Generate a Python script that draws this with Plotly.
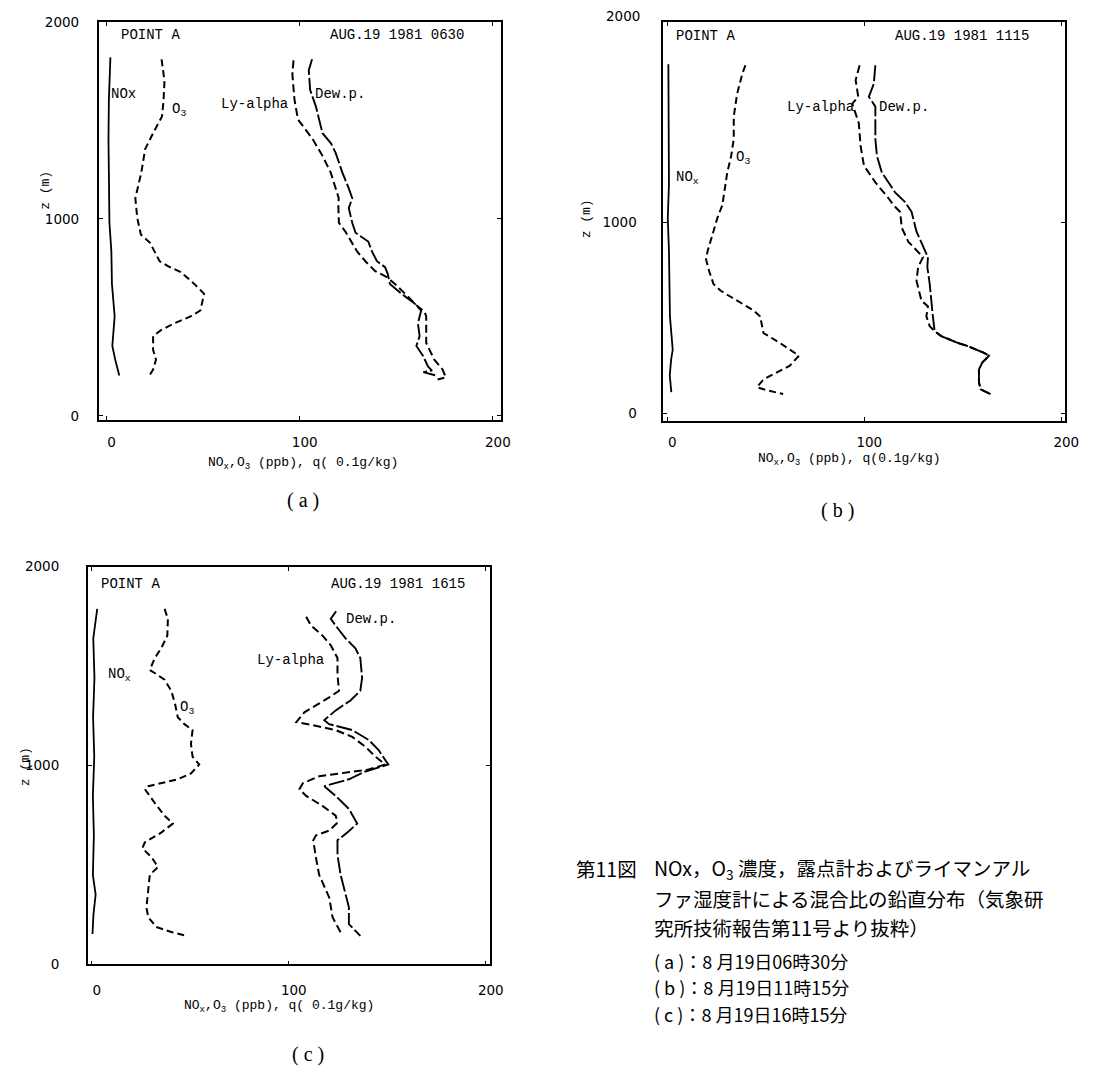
import plotly.graph_objects as go

# page body has an 8px default margin; the figure is sized to fit the window inside it
OFF = 8
W, H = 1103 - 2 * OFF, 1076 - 2 * OFF

# ---------------- data ----------------
# Panel (a) AUG.19 1981 0630
nox_a_z = [1820, 1600, 1400, 1170, 980, 835, 670, 505, 355, 285, 205]
nox_a = [2.0, 1.2, 1.0, 1.1, 1.5, 2.5, 2.8, 4.2, 3.0, 4.5, 6.6]

o3_a_z = [1810, 1700, 1600, 1520, 1435, 1355, 1235, 1105, 1005, 920, 880, 835, 785, 760,
          730, 670, 620, 535, 505, 470, 435, 405, 335, 285, 235, 200]
o3_a = [28.5, 30.0, 29.5, 28.7, 24.1, 20.0, 18.0, 14.9, 15.9, 17.8, 22.4, 25.0, 27.5, 31.8,
        38.4, 45.4, 50.5, 48.6, 43.5, 35.2, 28.2, 24.1, 24.1, 25.6, 24.1, 21.9]

ly_a_z = [1805, 1735, 1605, 1505, 1405, 1320, 1235, 1105, 1070, 980, 935, 835, 785, 735,
          705, 670, 605, 555, 530, 505, 370, 285, 235, 195, 185]
ly_a = [96.8, 96.2, 97.3, 99.1, 106.7, 111.8, 116.1, 120.2, 120.0, 120.3, 123.7, 129.7, 134.0,
        139.1, 145.1, 149.3, 156.1, 161.2, 164.6, 165.5, 165.5, 169.7, 174.0, 175.7, 171.4]

dew_a_z = [1810, 1755, 1655, 1570, 1435, 1385, 1335, 1235, 1155, 1105, 1055, 980, 930, 885,
           835, 785, 755, 720, 670, 620, 570, 535, 470, 405, 355, 305, 250, 230, 222, 205]
dew_a = [106.4, 104.7, 105.4, 108.4, 111.8, 116.1, 118.6, 122.1, 125.4, 127.2, 125.4, 127.2,
         128.9, 135.5, 137.4, 140.0, 144.2, 145.6, 146.7, 152.7, 159.5, 162.9, 161.2, 162.1,
         160.4, 163.8, 166.5, 168.5, 164.0, 170.5]

# Panel (b) AUG.19 1981 1115
nox_b_z = [1828, 1500, 1200, 1023, 848, 507, 332, 280, 198, 110]
nox_b = [0.5, 0.5, 0.8, 0.2, 0.8, 1.3, 2.7, 1.9, 1.2, 2.0]

o3_b_z = [1823, 1777, 1673, 1555, 1436, 1348, 1261, 1142, 1090, 1023, 936, 848, 806, 745, 677,
          641, 610, 574, 538, 507, 456, 420, 368, 332, 301, 249, 213, 177, 136, 120, 100]
o3_b = [39.6, 38.0, 35.4, 33.7, 33.7, 32.4, 30.4, 28.4, 27.9, 25.4, 22.9, 20.4, 19.6, 21.2, 23.4,
        27.1, 32.1, 38.0, 43.8, 47.1, 48.0, 48.8, 57.1, 62.2, 66.8, 62.2, 55.5, 48.8, 45.5, 50.5, 58.8]

ly_b_z = [1823, 1745, 1658, 1622, 1519, 1400, 1297, 1209, 1126, 1090, 1054, 972, 899, 848, 817,
          765, 693, 590, 559, 507, 456, 430, 404, 368, 352, 316, 301, 265, 229, 161, 125, 100]
ly_b = [97.6, 95.6, 96.9, 93.9, 97.2, 98.1, 99.8, 105.6, 112.3, 114.8, 118.2, 119.0, 122.3, 127.3,
        129.8, 127.3, 126.5, 129.0, 132.3, 131.5, 133.2, 135.7, 139.0, 147.4, 152.4, 160.8, 163.3,
        159.9, 158.2, 158.2, 159.1, 164.1]

dew_b_z = [1823, 1725, 1658, 1606, 1436, 1348, 1261, 1157, 1106, 1054, 951, 848, 817, 765, 677,
           507, 430, 404, 368, 352, 316, 301, 265, 229, 161, 125, 100]
dew_b = [105.6, 104.8, 102.3, 105.6, 105.6, 106.4, 108.9, 115.6, 120.7, 124.0, 126.5, 130.7, 132.3,
         132.0, 133.2, 134.8, 135.7, 139.0, 147.4, 152.4, 160.8, 163.3, 159.9, 158.2, 158.2, 159.1, 164.1]

# Panel (c) AUG.19 1981 1615
nox_c_z = [1787, 1639, 1441, 1243, 1045, 847, 649, 450, 351, 252, 153]
nox_c = [2.7, 0.7, 1.3, 0.6, 1.2, 0.5, 1.0, 0.5, 1.9, 0.8, 0.3]

o3_c_z = [1787, 1738, 1653, 1589, 1540, 1480, 1465, 1431, 1376, 1307, 1243, 1208, 1178, 1109,
          1045, 1005, 960, 931, 896, 881, 812, 748, 708, 663, 614, 584, 540, 490, 450, 386, 287,
          238, 188, 163, 144]
o3_c = [36.9, 38.6, 38.3, 35.2, 31.9, 29.4, 31.9, 36.9, 40.3, 42.3, 43.6, 47.0, 51.1, 50.3, 51.1,
        54.5, 50.3, 43.6, 28.6, 26.9, 31.9, 36.9, 41.1, 35.2, 26.9, 25.6, 30.2, 33.6, 29.4, 28.6,
        27.7, 28.6, 32.7, 40.3, 47.8]

ly_c_z = [1748, 1703, 1653, 1604, 1540, 1455, 1376, 1342, 1307, 1267, 1218, 1203, 1178, 1144, 1094,
          1045, 1005, 980, 946, 911, 881, 847, 797, 748, 713, 673, 649, 624, 535, 450, 337, 238, 144]
ly_c = [108.8, 111.3, 117.1, 121.3, 124.7, 124.7, 125.5, 120.5, 114.6, 107.9, 103.8, 112.1, 123.8,
        132.2, 138.9, 143.9, 148.9, 140.5, 115.4, 107.1, 105.4, 108.8, 117.1, 123.8, 124.7, 120.5,
        113.8, 112.4, 113.8, 115.4, 120.5, 122.2, 127.2]

dew_c_z = [1775, 1738, 1703, 1639, 1589, 1540, 1441, 1376, 1327, 1277, 1228, 1208, 1178, 1129, 1079,
           1005, 970, 931, 896, 847, 782, 708, 663, 624, 550, 450, 287, 203, 144]
dew_c = [124.0, 121.3, 123.8, 128.8, 133.8, 136.3, 137.2, 136.3, 131.3, 123.8, 118.0, 120.5, 132.2,
         140.5, 145.5, 150.5, 138.9, 130.5, 118.0, 123.8, 130.5, 134.7, 129.7, 124.7, 124.7, 126.3,
         130.5, 130.5, 136.3]

x_ticks = [0, 100, 200]
z_ticks = [[0, 1000, 2000], [0, 1000], [0, 1000, 2000]]
panel_times = ["AUG.19 1981 0630", "AUG.19 1981 1115", "AUG.19 1981 1615"]
panel_tags = ["( a )", "( b )", "( c )"]
caption_dates = ["( a )：8 月19日06時30分", "( b )：8 月19日11時15分", "( c )：8 月19日16時15分"]

# ---------------- layout geometry (window pixels) ----------------
frames = [(100, 507, 14, 418), (672, 1079, 14, 419), (89, 496, 567, 971)]
xranges = [[-4, 204], [-2, 202], [-2, 202]]
yranges = [[-20, 2000], [-40, 2050], [0, 2000]]
ystand = [15, 22, 24]
xstand = [9, 8, 12]


def fx(x):
    return (x - OFF) / W


def fy(y):
    return 1 - (y - OFF) / H


MONO = "Liberation Mono"
SANS = "DejaVu Sans"
CJK = "Noto Sans CJK JP"

fig = go.Figure()

panels = [
    (nox_a, nox_a_z, o3_a, o3_a_z, ly_a, ly_a_z, dew_a, dew_a_z),
    (nox_b, nox_b_z, o3_b, o3_b_z, ly_b, ly_b_z, dew_b, dew_b_z),
    (nox_c, nox_c_z, o3_c, o3_c_z, ly_c, ly_c_z, dew_c, dew_c_z),
]
styles = [("solid", 1.8), ("7px,4px", 2.0), ("8px,4px", 2.0), ("16px,3px", 1.9)]

for i, p in enumerate(panels):
    sfx = "" if i == 0 else str(i + 1)
    for k in range(4):
        fig.add_trace(go.Scatter(
            x=p[2 * k], y=p[2 * k + 1], mode="lines",
            line=dict(color="black", width=styles[k][1], dash=styles[k][0]),
            xaxis="x" + sfx, yaxis="y" + sfx, showlegend=False, hoverinfo="skip"))
    l, r, t, b = frames[i]
    axcommon = dict(showgrid=False, zeroline=False, showline=True, linecolor="black",
                    linewidth=1.9, mirror="ticks", ticks="inside", ticklen=4,
                    tickcolor="black", tickwidth=1.4,
                    tickfont=dict(family=SANS, size=13.5, color="black"))
    fig.update_layout(**{
        "xaxis" + sfx: dict(domain=[fx(l), fx(r)], range=xranges[i], tickvals=x_ticks,
                            anchor="y" + sfx, ticklabelstandoff=xstand[i], ticklabelshift=5,
                            **axcommon),
        "yaxis" + sfx: dict(domain=[fy(b), fy(t)], range=yranges[i], tickvals=z_ticks[i],
                            anchor="x" + sfx, ticklabelstandoff=ystand[i], **axcommon),
    })

ann = []


def add(text, x, y, size=14, family=MONO, xanchor="left", yanchor="middle", angle=0):
    ann.append(dict(text=text, x=fx(x), y=fy(y), xref="paper", yref="paper", showarrow=False,
                    xanchor=xanchor, yanchor=yanchor, textangle=angle, align="left",
                    font=dict(family=family, size=size, color="black")))


# top "2000" label of panel (b) sits above its frame in the original
add("2000", 650, 8, size=13.5, family=SANS, xanchor="right")

# in-panel texts
add("POINT A", 120, 27); add(panel_times[0], 332, 27)
add("NOx", 110, 87); add("O<sub>3</sub>", 172, 103); add("Ly-alpha", 222, 97); add("Dew.p.", 317, 87)

add("POINT A", 683, 28); add(panel_times[1], 905, 28)
add("Ly-alpha", 795, 100); add("Dew.p.", 888, 100)
add("O<sub>3</sub>", 743, 152); add("NO<sub>x</sub>", 683, 172)

add("POINT A", 100, 585); add(panel_times[2], 333, 585)
add("Dew.p.", 348, 620); add("Ly-alpha", 258, 662)
add("NO<sub>x</sub>", 107, 677); add("O<sub>3</sub>", 180, 711)

# axis titles
xt = "NO<sub>x</sub>,O<sub>3</sub> (ppb), q( 0.1g/kg)"
xt_b = "NO<sub>x</sub>,O<sub>3</sub> (ppb), q(0.1g/kg)"
add(xt, 307, 462, size=13, xanchor="center")
add(xt_b, 860, 458, size=13, xanchor="center")
add(xt, 283, 1014, size=13, xanchor="center")
add("z (m)", 46, 185, size=13, xanchor="center", angle=-90)
add("z (m)", 594, 214, size=13, xanchor="center", angle=-90)
add("z (m)", 26, 770, size=13, xanchor="center", angle=-90)

# panel tags
add(panel_tags[0], 307, 500, size=20, family="Liberation Serif", xanchor="center")
add(panel_tags[1], 848, 510, size=20, family="Liberation Serif", xanchor="center")
add(panel_tags[2], 312, 1062, size=20, family="Liberation Serif", xanchor="center")

# caption
cs = 19.5
add("第11図", 581, 874, size=cs, family=CJK)
add("NOx，O<sub>3</sub> 濃度，露点計およびライマンアル", 660, 874, size=cs, family=CJK)
add("ファ湿度計による混合比の鉛直分布（気象研", 660, 904, size=cs, family=CJK)
add("究所技術報告第11号より抜粋）", 660, 933, size=cs, family=CJK)
for j, line in enumerate(caption_dates):
    add(line, 660, 967 + 27 * j, size=18, family=CJK)

fig.update_layout(width=W, height=H, autosize=False,
                  margin=dict(l=0, r=0, t=0, b=0),
                  paper_bgcolor="white", plot_bgcolor="white",
                  annotations=ann, showlegend=False)

fig.write_html("out.html")
